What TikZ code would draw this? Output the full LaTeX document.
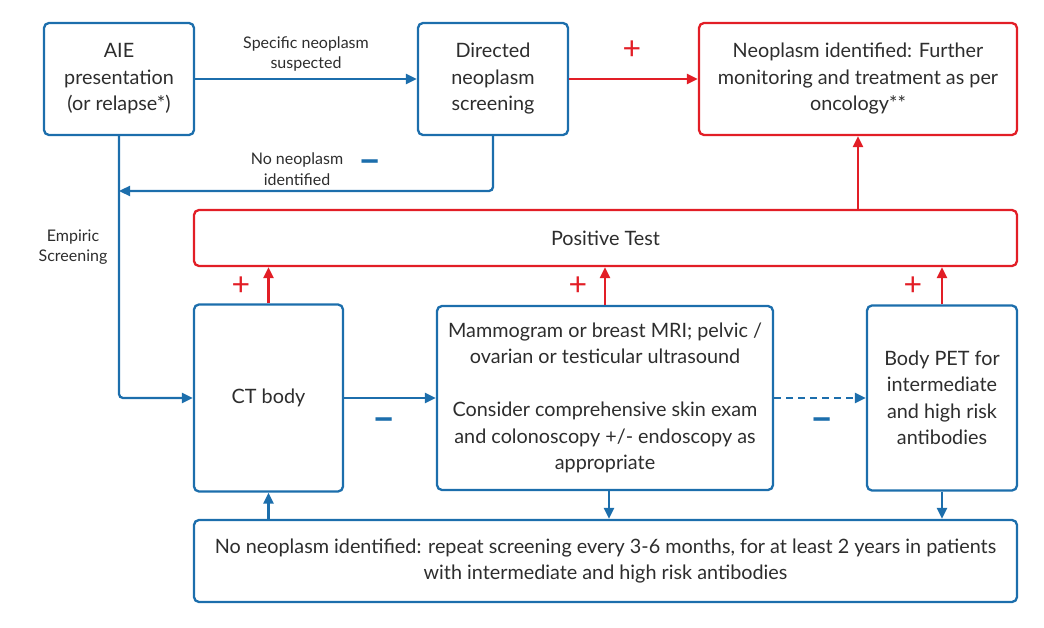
\documentclass[tikz,border=0pt]{standalone}
\usepackage{fontspec}
\setmainfont{Lato}
\usetikzlibrary{arrows.meta}
\definecolor{flowblue}{RGB}{28,110,172}
\definecolor{flowred}{RGB}{226,30,38}
\definecolor{flowtext}{RGB}{45,45,45}
\begin{document}
\begin{tikzpicture}[x=1pt,y=-1pt,
    box/.style={draw=flowblue,line width=2.3pt,rounded corners=5pt,align=center,
      inner sep=0pt,text=flowtext,font=\fontsize{19.8}{26.5}\selectfont},
    redbox/.style={box,draw=flowred},
    lbl/.style={align=center,text=flowtext,font=\fontsize{16}{20.5}\selectfont},
    bluearrow/.style={color=flowblue,line width=2.3pt,-{Triangle[length=11pt,width=10pt]}},
    redarrow/.style={bluearrow,color=flowred},
    plus/.style={text=flowred,font=\fontsize{32}{32}\selectfont},
    minus/.style={text=flowblue,font=\bfseries\fontsize{40}{40}\selectfont}]
  \useasboundingbox (0,0) rectangle (1044,628);
  % top row
  \node[box,minimum width=150,minimum height=112] (aie) at (119,79)
    {AIE\\presentation\\(or relapse*)};
  \node[box,minimum width=150,minimum height=112] (dir) at (493,79)
    {Directed\\neoplasm\\screening};
  \node[redbox,minimum width=318,minimum height=112] (neo) at (858,79)
    {Neoplasm identified: Further\\monitoring and treatment as per\\oncology**};
  \node[redbox,minimum width=823,minimum height=56] (pos) at (605.5,238) {Positive Test};
  % screening row
  \node[box,minimum width=149,minimum height=187] (ct) at (268.5,398) {CT body};
  \node[box,minimum width=336,minimum height=184] (mam) at (605,398)
    {Mammogram or breast MRI; pelvic /\\ovarian or testicular ultrasound\\[26.5pt]
     Consider comprehensive skin exam\\and colonoscopy +/- endoscopy as\\appropriate};
  \node[box,minimum width=150,minimum height=185] (pet) at (942,398)
    {Body PET for\\intermediate\\and high risk\\antibodies};
  \node[box,minimum width=823,minimum height=82] (rep) at (605.5,561)
    {No neoplasm identified: repeat screening every 3-6 months, for at least 2 years in patients\\
     with intermediate and high risk antibodies};
  \coordinate (back) at (aie.south |- 0,191);

  \draw[bluearrow] (aie) -- (dir);
  \node[lbl] (suspect) at (306,54) {Specific neoplasm\\suspected};
  \draw[redarrow] (dir) -- (neo);
  \node[plus] (plustop) at (632,50) {+};
  \draw[bluearrow,rounded corners=4pt] (dir.south) |- (back);
  \node[lbl] (noneo) at (297,169) {No neoplasm\\identified};
  \node[minus] (minustop) at (370,167) {--};
  \draw[bluearrow,rounded corners=4pt] (aie.south) |- (ct.west);
  \node[lbl] (empiric) at (73,247) {Empiric\\Screening};
  \draw[redarrow] (pos.north -| neo.south) -- (neo.south);
  \foreach \n/\x in {ct/241,mam/578,pet/913}{
    \draw[redarrow] (\n.north) -- (\n.north |- pos.south);
    \node[plus] at (\x,286) {+};
  }
  \draw[bluearrow] (ct) -- (mam);
  \node[minus] (minusct) at (384,425) {--};
  \draw[bluearrow,dashed,dash pattern=on 7pt off 5pt] (mam) -- (pet);
  \node[minus] (minusmam) at (822,425) {--};
  \draw[bluearrow] (ct.south |- rep.north) -- (ct.south);
  \draw[bluearrow] ([xshift=4pt]mam.south) -- ([xshift=4pt]mam.south |- rep.north);
  \draw[bluearrow] (pet.south) -- (pet.south |- rep.north);
\end{tikzpicture}
\end{document}
